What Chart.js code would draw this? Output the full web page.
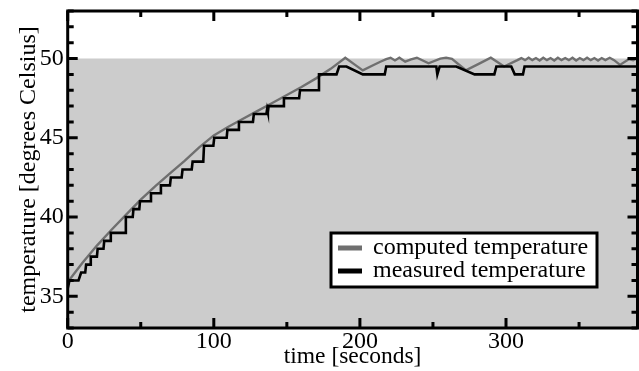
<!DOCTYPE html>
<html>
<head>
<meta charset="utf-8">
<script src="https://cdn.jsdelivr.net/npm/chart.js@4.4.0/dist/chart.umd.min.js"></script>
<style>
    html, body { margin: 0; padding: 0; background: #fff; }
    #wrap { width: 639px; height: 371px; }
</style>
</head>
<body>
<div id="wrap"><canvas id="tempChart" width="639" height="371"></canvas></div>
<script>
// computed temperature (smooth model)
const computedTime = [0, 10, 20, 30, 40, 50, 60, 70, 80, 90, 100, 110, 120, 130, 140, 150, 160, 170, 180, 190,
    196, 202, 209, 214, 218, 221, 224, 227, 231, 235, 239, 247, 255, 259, 263, 272.5, 281, 289.6, 298.7, 307.8,
    310.5, 313, 315.5, 318, 320.5, 323, 325.5, 328, 330.5, 333, 335.5, 338, 340.5, 343, 345.5, 348, 350.5, 353,
    355.5, 358, 360.5, 363, 365.5, 368, 371, 374, 378, 384, 387, 390];
const computedTemp = [35.9, 37.1, 38.2, 39.2, 40.15, 41.1, 41.95, 42.75, 43.55, 44.4, 45.15, 45.7, 46.2, 46.7, 47.2, 47.7, 48.2, 48.75, 49.35, 50.05,
    49.65, 49.25, 49.58, 49.8, 49.96, 50.05, 49.88, 50.05, 49.8, 49.95, 50.05, 49.7, 50.0, 50.05, 49.98, 49.26, 49.65, 50.05, 49.5, 49.9,
    50.03, 49.9, 50.05, 49.9, 50.03, 49.88, 50.05, 49.9, 50.03, 49.88, 50.05, 49.9, 50.03, 49.9, 50.05, 49.88, 50.03, 49.9,
    50.05, 49.9, 50.03, 49.88, 50.03, 49.9, 50.05, 49.9, 49.6, 49.96, 49.9, 50.02];

// measured temperature (sensor steps of 0.5)
const measuredTime = [0, 1.2, 7.4, 9.2, 12, 12.6, 15.4, 15.8, 20, 20.5, 24.5, 25, 29, 29.5, 39.3, 39.8, 44.5, 45, 49, 49.5,
    56.4, 57, 63.2, 63.8, 70, 70.6, 78, 78.6, 84.9, 85.5, 92.8, 93.3, 99.7, 100.3, 108.8, 109.3, 116.6, 117.2, 126.8, 127.4,
    136, 136.5, 137, 137.5, 147.5, 148, 158.4, 159, 171.4, 172, 184, 185.8, 190.8, 202, 217, 218, 252.3, 253, 254.6,
    266, 278.5, 292, 293.4, 303.6, 306, 311.6, 312.7, 390];
const measuredTemp = [35.5, 36, 36, 36.5, 36.5, 37, 37, 37.5, 37.5, 38, 38, 38.5, 38.5, 39, 39, 40, 40, 40.5, 40.5, 41,
    41, 41.5, 41.5, 42, 42, 42.5, 42.5, 43, 43, 43.5, 43.5, 44.5, 44.5, 45, 45, 45.5, 45.5, 46, 46, 46.5,
    46.5, 46.8, 46.6, 47, 47, 47.5, 47.5, 48, 48, 49, 49, 49.5, 49.5, 49, 49, 49.5, 49.5, 49, 49.5,
    49.5, 49, 49, 49.5, 49.5, 49, 49, 49.5, 49.5];

// shaded region below the 50 degree limit
const limitTime = [0, 390];
const limitTemp = [50, 50];

const xLabelValues = [0, 100, 200, 300];
const yLabelValues = [35, 40, 45, 50];
const xTickValues = [0, 50, 100, 150, 200, 250, 300, 350];
const yTickValues = [33, 34, 35, 36, 37, 38, 39, 40, 41, 42, 43, 44, 45, 46, 47, 48, 49, 50, 51, 52, 53];
const legendLabels = ['computed temperature', 'measured temperature'];
const legendColors = ['#6f6f6f', '#000000'];

const toPoints = (xs, ys) => xs.map((t, i) => ({ x: t, y: ys[i] }));

const framePlugin = {
    id: 'frame',
    afterDraw(chart) {
        const { ctx, chartArea: a, scales: { x, y } } = chart;
        ctx.save();
        ctx.strokeStyle = '#000';
        ctx.lineWidth = 3;
        ctx.beginPath();
        xTickValues.forEach(v => {
            const px = x.getPixelForValue(v);
            const len = v % 100 === 0 ? 10 : 6;
            ctx.moveTo(px, a.bottom); ctx.lineTo(px, a.bottom - len);
            ctx.moveTo(px, a.top); ctx.lineTo(px, a.top + len);
        });
        yTickValues.forEach(v => {
            const py = y.getPixelForValue(v);
            const len = v % 5 === 0 ? 10 : 6;
            ctx.moveTo(a.left, py); ctx.lineTo(a.left + len, py);
            ctx.moveTo(a.right, py); ctx.lineTo(a.right - len, py);
        });
        ctx.stroke();
        ctx.strokeRect(a.left, a.top, a.right - a.left, a.bottom - a.top);

        // legend box
        const bx = 331, by = 233, bw = 266, bh = 54;
        ctx.fillStyle = '#fff';
        ctx.fillRect(bx, by, bw, bh);
        ctx.strokeRect(bx, by, bw, bh);
        ctx.font = '24px "Liberation Serif"';
        ctx.textBaseline = 'middle';
        legendLabels.forEach((label, i) => {
            const ly = by + 15 + i * 23;
            ctx.fillStyle = legendColors[i];
            ctx.fillRect(bx + 7, ly - 2.5, 24, 5);
            ctx.fillStyle = '#000';
            ctx.fillText(label, bx + 42, ly);
        });
        ctx.restore();
    }
};

Chart.defaults.font.family = '"Liberation Serif"';
Chart.defaults.color = '#000';

const ctx = document.getElementById('tempChart').getContext('2d');
const tempChart = new Chart(ctx, {
    type: 'line',
    data: {
        datasets: [{
            label: 'measured temperature',
            data: toPoints(measuredTime, measuredTemp),
            borderColor: '#000',
            borderWidth: 2.6,
            pointRadius: 0,
            tension: 0,
            fill: false
        }, {
            label: 'computed temperature',
            data: toPoints(computedTime, computedTemp),
            borderColor: '#6f6f6f',
            borderWidth: 2.4,
            pointRadius: 0,
            tension: 0,
            fill: false
        }, {
            label: 'limit',
            data: toPoints(limitTime, limitTemp),
            borderWidth: 0,
            borderColor: 'rgba(0,0,0,0)',
            backgroundColor: '#cccccc',
            pointRadius: 0,
            fill: 'start'
        }]
    },
    options: {
        responsive: false,
        devicePixelRatio: 1,
        animation: false,
        layout: {
            padding: { top: 11, right: 1.5, left: 0, bottom: 0 }
        },
        plugins: {
            legend: { display: false },
            tooltip: { enabled: false }
        },
        scales: {
            x: {
                type: 'linear',
                min: 0,
                max: 390,
                grid: { display: false, drawTicks: false },
                border: { display: false },
                afterBuildTicks(scale) { scale.ticks = xLabelValues.map(v => ({ value: v })); },
                ticks: {
                    maxRotation: 0,
                    autoSkip: false,
                    padding: -1,
                    font: { size: 24 }
                },
                title: {
                    display: true,
                    text: 'time [seconds]',
                    font: { size: 23.5 },
                    padding: { top: 0, bottom: 0 }
                },
                afterFit(scale) {
                    scale.height = 43;
                    scale.paddingLeft = 0;
                    scale.paddingRight = 0;
                }
            },
            y: {
                min: 33,
                max: 53,
                grid: { display: false, drawTicks: false },
                border: { display: false },
                afterBuildTicks(scale) { scale.ticks = yLabelValues.map(v => ({ value: v })); },
                ticks: {
                    autoSkip: false,
                    padding: 4,
                    font: { size: 24 }
                },
                title: {
                    display: true,
                    text: 'temperature [degrees Celsius]',
                    font: { size: 24 },
                    padding: { top: 14, bottom: 0 }
                },
                afterFit(scale) {
                    scale.width = 67.7;
                    scale.paddingTop = 0;
                    scale.paddingBottom = 0;
                }
            }
        }
    },
    plugins: [framePlugin]
});
</script>
</body>
</html>
